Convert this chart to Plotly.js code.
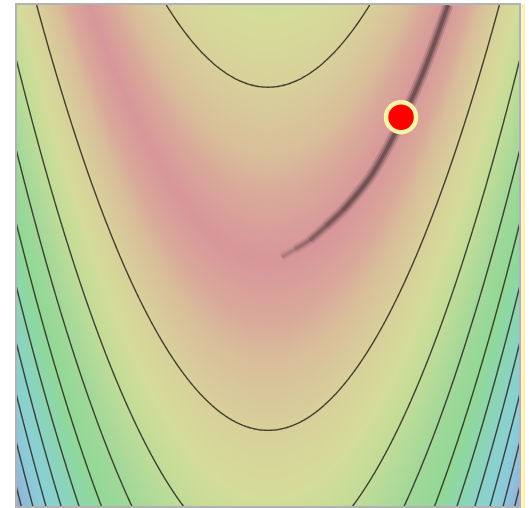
<!DOCTYPE html>
<html>
<head>
<meta charset="utf-8">
<script src="https://cdn.plot.ly/plotly-3.0.1.min.js"></script>
<style>
  html, body { margin: 0; padding: 0; background: #ffffff; }
  #chart { width: 529px; height: 508px; }
</style>
</head>
<body>
<div id="chart"></div>
<script>
// ---- data ----
// surface: valley function f(x, y) = (y - x^2)^2 on the square below
const xRange = [-2, 2];
const yRange = [-1.968, 2.02];
const gridCount = 181;
// contour levels of f (start, step)
const levelStart = 1.85;
const levelStep = 3.97;
const levelEnd = 40;
// optimiser path (x, y) read from the dark trail
const trailX = [0.109, 0.214, 0.333, 0.460, 0.595, 0.810, 0.968, 1.101, 1.230, 1.339, 1.429];
const trailY = [0.014, 0.075, 0.147, 0.258, 0.385, 0.647, 0.917, 1.179, 1.472, 1.760, 2.012];
// current point (red dot)
const dotX = [1.056];
const dotY = [1.123];
// colour ramp by distance from the valley |y - x^2|
const rampDist = [0, 0.5, 0.8, 1.36, 1.9, 2.4, 3.1, 3.7, 4.2, 4.65, 5.1, 5.5, 6.0];
const rampColor = ['#d8969a', '#d9a99a', '#d9bd9a', '#d8d09a', '#d4dc99', '#c0dc98',
                   '#a2d898', '#92d896', '#8cd6ac', '#8ad2c6', '#8acfd6', '#8ec2da', '#96a8d8'];

// ---- build grid ----
const gx = [], gy = [];
for (let i = 0; i < gridCount; i++) {
  gx.push(xRange[0] + (xRange[1] - xRange[0]) * i / (gridCount - 1));
  gy.push(yRange[0] + (yRange[1] - yRange[0]) * i / (gridCount - 1));
}
const zDist = [], zF = [];
for (let j = 0; j < gridCount; j++) {
  const rowD = [], rowF = [];
  for (let i = 0; i < gridCount; i++) {
    const d = gy[j] - gx[i] * gx[i];
    rowD.push(Math.abs(d));
    rowF.push(d * d);
  }
  zDist.push(rowD);
  zF.push(rowF);
}
const dMax = rampDist[rampDist.length - 1];
const colorscale = rampDist.map((d, k) => [d / dMax, rampColor[k]]);

const traces = [
  {
    type: 'heatmap', x: gx, y: gy, z: zDist,
    zmin: 0, zmax: dMax, colorscale: colorscale,
    zsmooth: 'best', showscale: false, hoverinfo: 'skip'
  },
  {
    type: 'contour', x: gx, y: gy, z: zF,
    autocontour: false,
    contours: { start: levelStart, end: levelEnd, size: levelStep, coloring: 'none' },
    line: { color: 'rgba(40,38,28,0.85)', width: 1.4, smoothing: 1 },
    showscale: false, hoverinfo: 'skip'
  }
];

// soft trail, fading towards its start: segments [from, to, strength, width]
const segs = [[0, 1, 0.35, 0.75], [1, 2, 0.55, 0.85], [2, 3, 0.75, 0.92], [3, 4, 0.9, 1.0],
              [4, trailX.length - 1, 1.0, 1.0]];
const layers = [[11, 0.15], [7, 0.25], [3.5, 0.35]];
segs.forEach(([a, b, s, w]) => {
  layers.forEach(([lw, op]) => {
    traces.push({
      type: 'scatter', mode: 'lines',
      x: trailX.slice(a, b + 1), y: trailY.slice(a, b + 1),
      line: { color: '#2a2022', width: lw * w, shape: 'spline' },
      opacity: op * s, hoverinfo: 'skip'
    });
  });
});

traces.push({
  type: 'scatter', mode: 'markers', x: dotX, y: dotY,
  marker: { color: '#ff0000', size: 30, line: { color: '#fff3a8', width: 4.5 } },
  hoverinfo: 'skip'
});

const hiddenAxis = {
  showgrid: false, zeroline: false, showticklabels: false, ticks: '',
  showline: false, fixedrange: true
};

const layout = {
  width: 529, height: 508,
  margin: { l: 16, r: 9, t: 4, b: 1, pad: 0 },
  paper_bgcolor: '#ffffff', plot_bgcolor: '#ffffff',
  showlegend: false,
  xaxis: Object.assign({ range: xRange }, hiddenAxis),
  yaxis: Object.assign({ range: yRange }, hiddenAxis),
  shapes: [
    { type: 'rect', xref: 'paper', yref: 'paper', x0: 1.003, x1: 1.0099, y0: -0.002, y1: 1.0,
      line: { width: 0 }, fillcolor: '#fff1b0', layer: 'above' },
    { type: 'rect', xref: 'paper', yref: 'paper', x0: 0, x1: 1, y0: 0, y1: 1,
      line: { color: '#b2b2b2', width: 2 }, fillcolor: 'rgba(0,0,0,0)', layer: 'above' }
  ]
};

Plotly.newPlot('chart', traces, layout, { displayModeBar: false, staticPlot: true });
</script>
</body>
</html>
